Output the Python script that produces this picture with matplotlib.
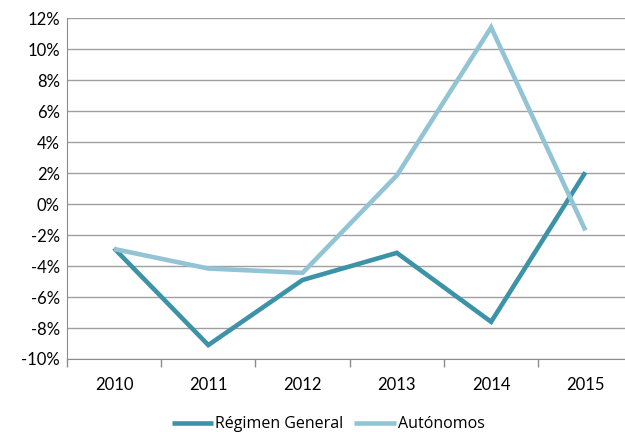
import matplotlib.pyplot as plt
from matplotlib.ticker import FuncFormatter, FixedLocator

# Data (percent change)
years = ['2010', '2011', '2012', '2013', '2014', '2015']
regimen_general = [-2.85, -9.1, -4.9, -3.15, -7.6, 2.05]
autonomos = [-2.9, -4.16, -4.44, 1.85, 11.4, -1.7]

plt.rcParams['font.family'] = ['Lato', 'DejaVu Sans']

fig = plt.figure(figsize=(6.25, 4.32), dpi=100)
ax = fig.add_axes([0.107, 0.169, 0.893, 0.789])

x = list(range(len(years)))
ax.plot(x, regimen_general, color='#3C93A8', lw=3.3, label='Régimen General',
        solid_joinstyle='miter', solid_capstyle='butt')
ax.plot(x, autonomos, color='#93C4D5', lw=3.3, label='Autónomos',
        solid_joinstyle='miter', solid_capstyle='butt')

ax.set_ylim(-10, 12)
ax.set_yticks(range(-10, 13, 2))
ax.yaxis.set_major_formatter(FuncFormatter(lambda v, p: f'{int(v)}%'))
ax.set_xlim(-0.5, 5.42)

# category labels in the middle, tick marks between categories
ax.set_xticks(x)
ax.set_xticklabels(years)
ax.tick_params(axis='x', which='major', length=0, pad=13, labelsize=12)
ax.xaxis.set_minor_locator(FixedLocator([i - 0.5 for i in range(len(years))]))
ax.tick_params(axis='x', which='minor', length=6, color='#8C8C8C', width=1)
ax.tick_params(axis='y', length=0, pad=5, labelsize=12)

ax.grid(axis='y', color='#A0A0A0', lw=1)
ax.set_axisbelow(True)
for s in ['top', 'right']:
    ax.spines[s].set_visible(False)
ax.spines['left'].set_color('#8C8C8C')
ax.spines['bottom'].set_color('#8C8C8C')

fig.legend(loc='center', bbox_to_anchor=(0.525, 0.018), ncol=2, frameon=False,
           prop={'family': ['Open Sans', 'DejaVu Sans'], 'size': 11.5},
           handlelength=2.6, handletextpad=0.1, columnspacing=0.7)

plt.savefig('out.png', dpi=100)
